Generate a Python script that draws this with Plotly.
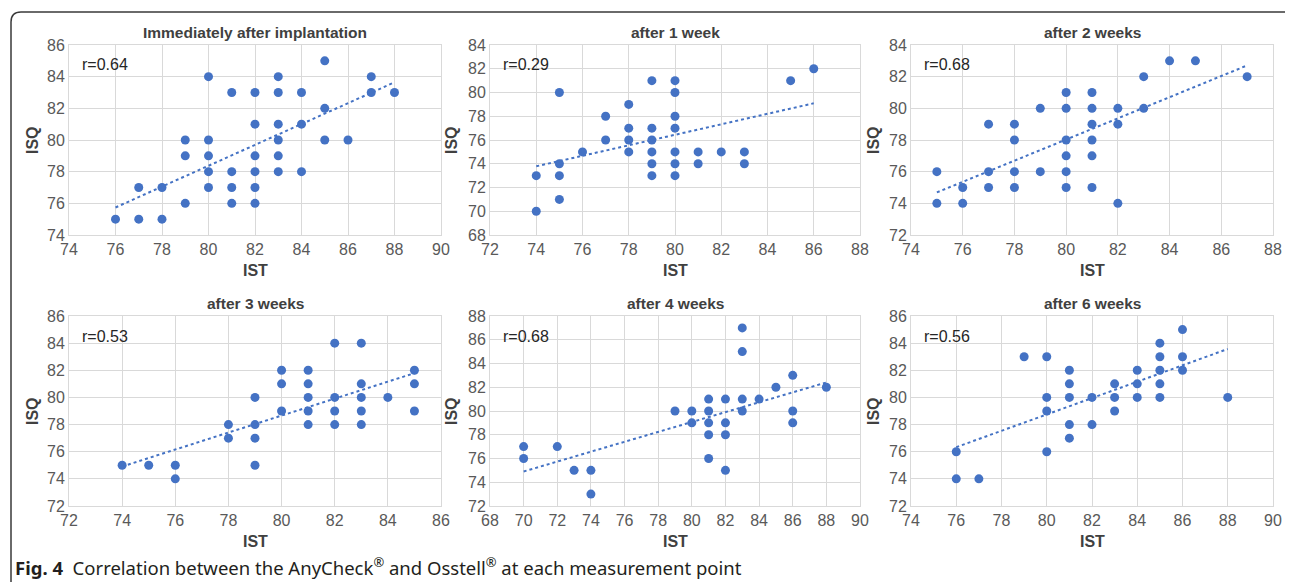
import numpy as np
import plotly.graph_objects as go

# the page body adds an 8px offset; size the figure to end at the window edge
OFF = 8
W, H = 1293 - OFF, 582 - OFF

# ---------------- data ----------------
titles = ["Immediately after implantation", "after 1 week", "after 2 weeks",
          "after 3 weeks", "after 4 weeks", "after 6 weeks"]
r_labels = ["r=0.64", "r=0.29", "r=0.68", "r=0.53", "r=0.68", "r=0.56"]

ist_0w = [76, 77, 78, 77, 78, 79, 79, 79, 80, 80, 80, 80, 80, 81, 81, 81, 81,
          82, 82, 82, 82, 82, 82, 83, 83, 83, 83, 83, 83, 84, 84, 84, 85, 85, 85,
          86, 87, 87, 88]
isq_0w = [75, 75, 75, 77, 77, 76, 79, 80, 84, 80, 79, 78, 77, 83, 78, 77, 76,
          83, 81, 79, 78, 77, 76, 84, 83, 81, 80, 79, 78, 83, 81, 78, 85, 82, 80,
          80, 84, 83, 83]

ist_1w = [74, 74, 75, 75, 75, 75, 76, 77, 77, 78, 78, 78, 78, 79, 79, 79, 79, 79, 79,
          80, 80, 80, 80, 80, 80, 80, 81, 81, 82, 83, 83, 85, 86]
isq_1w = [73, 70, 80, 74, 73, 71, 75, 78, 76, 79, 77, 76, 75, 81, 77, 76, 75, 74, 73,
          81, 80, 78, 77, 75, 74, 73, 75, 74, 75, 75, 74, 81, 82]

ist_2w = [75, 75, 76, 76, 77, 77, 77, 78, 78, 78, 78, 79, 79, 80, 80, 80, 80, 80, 80,
          81, 81, 81, 81, 81, 81, 82, 82, 82, 83, 83, 84, 85, 87]
isq_2w = [76, 74, 75, 74, 79, 76, 75, 79, 78, 76, 75, 80, 76, 81, 80, 78, 77, 76, 75,
          81, 80, 79, 78, 77, 75, 80, 79, 74, 82, 80, 83, 83, 82]

ist_3w = [74, 75, 76, 76, 78, 78, 79, 79, 79, 79, 80, 80, 80, 81, 81, 81, 81, 81,
          82, 82, 82, 82, 83, 83, 83, 83, 83, 84, 85, 85, 85]
isq_3w = [75, 75, 75, 74, 78, 77, 80, 78, 77, 75, 82, 81, 79, 82, 81, 80, 79, 78,
          84, 80, 79, 78, 84, 81, 80, 79, 78, 80, 82, 81, 79]

ist_4w = [70, 70, 72, 73, 74, 74, 79, 80, 80, 81, 81, 81, 81, 81, 82, 82, 82, 82,
          83, 83, 83, 83, 84, 85, 86, 86, 86, 88]
isq_4w = [77, 76, 77, 75, 75, 73, 80, 80, 79, 81, 80, 79, 78, 76, 81, 79, 78, 75,
          87, 85, 81, 80, 81, 82, 83, 80, 79, 82]

ist_6w = [76, 76, 77, 79, 80, 80, 80, 80, 81, 81, 81, 81, 81, 82, 82, 83, 83, 83,
          84, 84, 84, 85, 85, 85, 85, 85, 86, 86, 86, 88]
isq_6w = [76, 74, 74, 83, 83, 80, 79, 76, 82, 81, 80, 78, 77, 80, 78, 81, 80, 79,
          82, 81, 80, 84, 83, 82, 81, 80, 85, 83, 82, 80]

ist_sets = [ist_0w, ist_1w, ist_2w, ist_3w, ist_4w, ist_6w]
isq_sets = [isq_0w, isq_1w, isq_2w, isq_3w, isq_4w, isq_6w]

x_ranges = [[74, 90], [72, 88], [74, 88], [72, 86], [68, 90], [74, 90]]
y_ranges = [[74, 86], [68, 84], [72, 84], [72, 86], [72, 88], [72, 86]]

# ---------------- layout geometry (window pixels) ----------------
col_px = [(69, 441), (490, 860), (911, 1273)]
row_px = [(45, 235), (316, 506)]
ytitle_px = [32, 451, 873]
title_py = [33, 303]
xtitle_py = [270, 541]

def px(x):
    return (x - OFF) / W

def py(y):
    return 1 - (y - OFF) / H

BLUE = "#4472C4"
GRID = "#d9d9d9"
TICK = "#595959"
DARK = "#404040"
FONT = "Liberation Sans, Arial, sans-serif"

fig = go.Figure()
annotations = []

for i in range(6):
    r, c = divmod(i, 3)
    n = i + 1
    xa = "x" if n == 1 else f"x{n}"
    ya = "y" if n == 1 else f"y{n}"
    xs = np.array(ist_sets[i], dtype=float)
    ys = np.array(isq_sets[i], dtype=float)

    fig.add_trace(go.Scatter(
        x=xs, y=ys, mode="markers", xaxis=xa, yaxis=ya,
        marker=dict(color=BLUE, size=9), showlegend=False, hoverinfo="x+y"))

    slope, icpt = np.polyfit(xs, ys, 1)
    tx = np.array([xs.min(), xs.max()])
    fig.add_trace(go.Scatter(
        x=tx, y=slope * tx + icpt, mode="lines", xaxis=xa, yaxis=ya,
        line=dict(color=BLUE, width=2, dash="dot"), showlegend=False,
        hoverinfo="skip"))

    x0, x1 = col_px[c]
    y0, y1 = row_px[r]
    axis_common = dict(showgrid=True, gridcolor=GRID, gridwidth=1, zeroline=False,
                       showline=True, linecolor=GRID, linewidth=1, mirror=True,
                       ticks="", dtick=2, fixedrange=True, automargin=False,
                       tickfont=dict(family=FONT, size=16, color=TICK))
    fig.layout[f"xaxis{'' if n == 1 else n}"] = dict(
        domain=[px(x0), px(x1)], range=x_ranges[i], anchor=ya, **axis_common)
    fig.layout[f"yaxis{'' if n == 1 else n}"] = dict(
        domain=[py(y1), py(y0)], range=y_ranges[i], anchor=xa, **axis_common)

    annotations.append(dict(text=f"<b>{titles[i]}</b>", x=px((x0 + x1) / 2),
                            y=py(title_py[r]), xref="paper", yref="paper",
                            showarrow=False, xanchor="center", yanchor="middle",
                            font=dict(family=FONT, size=15.5, color=DARK)))
    annotations.append(dict(text="<b>IST</b>", x=px((x0 + x1) / 2),
                            y=py(xtitle_py[r]), xref="paper", yref="paper",
                            showarrow=False, xanchor="center", yanchor="middle",
                            font=dict(family=FONT, size=16, color=DARK)))
    annotations.append(dict(text="<b>ISQ</b>", x=px(ytitle_px[c]),
                            y=py((y0 + y1) / 2), xref="paper", yref="paper",
                            showarrow=False, xanchor="center", yanchor="middle",
                            textangle=-90,
                            font=dict(family=FONT, size=16, color=DARK)))
    annotations.append(dict(text=r_labels[i], x=px(x0 + 11), y=py(y0 + 20),
                            xref="paper", yref="paper", showarrow=False,
                            xanchor="left", yanchor="middle",
                            font=dict(family=FONT, size=16, color="#262626")))

annotations.append(dict(
    text="<b>Fig. 4</b>  Correlation between the AnyCheck<sup>®</sup> and Osstell<sup>®</sup> at each measurement point",
    x=px(13), y=py(566), xref="paper", yref="paper", showarrow=False,
    xanchor="left", yanchor="middle",
    font=dict(family="Noto Sans, Open Sans, sans-serif", size=18.5, color="#231f20")))

path = (f"M {px(11)},{py(582)} L {px(11)},{py(22)} "
        f"Q {px(11)},{py(12)} {px(21)},{py(12)} "
        f"L {px(1284)},{py(12)} Q {px(1289)},{py(12)} {px(1292)},{py(17)}")
fig.add_shape(type="path", path=path, xref="paper", yref="paper",
              line=dict(color="#3a3a3a", width=1.5))

fig.update_layout(
    width=W, height=H, margin=dict(l=0, r=0, t=0, b=0, autoexpand=False),
    paper_bgcolor="white", plot_bgcolor="white",
    annotations=annotations, showlegend=False)

fig.write_html("out.html")
